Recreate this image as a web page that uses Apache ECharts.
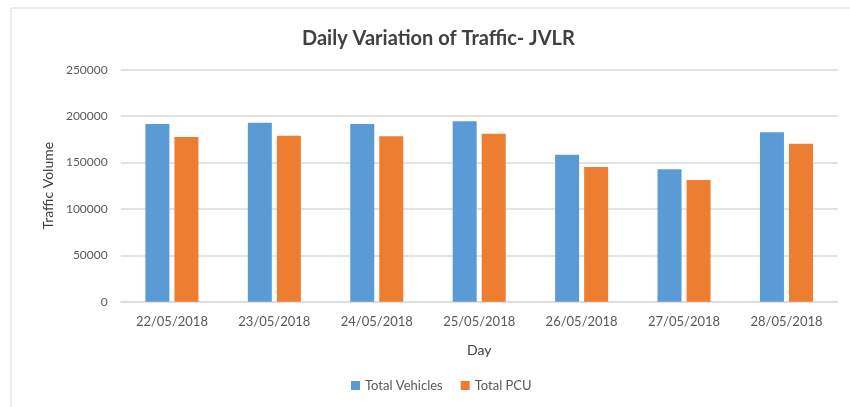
<!DOCTYPE html>
<html>
<head>
<meta charset="utf-8">
<script src="https://cdn.jsdelivr.net/npm/echarts@6/dist/echarts.min.js"></script>
<style>
  html, body { margin: 0; padding: 0; background: #fff; }
  #chart { width: 850px; height: 407px; }
</style>
</head>
<body>
<div id="chart"></div>
<script>
// daily traffic on JVLR
const days = ['22/05/2018', '23/05/2018', '24/05/2018', '25/05/2018', '26/05/2018', '27/05/2018', '28/05/2018']
const totalVehicles = [191500, 192900, 191500, 194400, 158400, 142700, 182500]
const totalPCU = [177500, 178900, 178200, 181000, 145100, 131100, 170300]
const yTicks = [0, 50000, 100000, 150000, 200000, 250000]

const chart = echarts.init(document.getElementById('chart'))
const font = 'Lato'
const option = {
  animation: false,
  textStyle: { fontFamily: font },
  graphic: [{
    type: 'rect',
    shape: { x: 11, y: 8, width: 900, height: 500 },
    style: { fill: 'none', stroke: '#d9d9d9', lineWidth: 1 }
  }],
  title: {
    text: 'Daily Variation of Traffic- JVLR',
    left: 297,
    top: 24,
    textStyle: { fontFamily: font, fontSize: 20, fontWeight: 'bold', color: '#404040' }
  },
  legend: {
    data: ['Total Vehicles', 'Total PCU'],
    bottom: 10,
    left: 346,
    icon: 'rect',
    itemWidth: 9,
    itemHeight: 9,
    itemGap: 18,
    textStyle: { fontFamily: font, fontSize: 13, color: '#595959' }
  },
  grid: { left: 120.7, right: 12.3, top: 69.7, bottom: 105.3 },
  xAxis: {
    type: 'category',
    data: days,
    name: 'Day',
    nameLocation: 'middle',
    nameGap: 42,
    nameTextStyle: { fontFamily: font, fontSize: 14, color: '#404040' },
    axisLine: { lineStyle: { color: '#d9d9d9' } },
    axisTick: { show: false },
    axisLabel: { fontSize: 13, color: '#595959', margin: 14 }
  },
  yAxis: {
    type: 'value',
    min: yTicks[0],
    max: yTicks[yTicks.length - 1],
    interval: yTicks[1] - yTicks[0],
    name: 'Traffic Volume',
    nameLocation: 'middle',
    nameGap: 64,
    nameTextStyle: { fontFamily: font, fontSize: 14, color: '#404040' },
    axisLine: { show: false },
    axisTick: { show: false },
    splitLine: { lineStyle: { color: '#d9d9d9', width: 1.5 } },
    axisLabel: { fontSize: 12, color: '#595959', margin: 13, formatter: v => String(v) }
  },
  series: [
    {
      name: 'Total Vehicles',
      type: 'bar',
      data: totalVehicles,
      barWidth: 24,
      barGap: '21%',
      itemStyle: { color: '#5b9bd5' }
    },
    {
      name: 'Total PCU',
      type: 'bar',
      data: totalPCU,
      barWidth: 24,
      itemStyle: { color: '#ed7d31' }
    }
  ]
}
chart.setOption(option)
</script>
</body>
</html>
